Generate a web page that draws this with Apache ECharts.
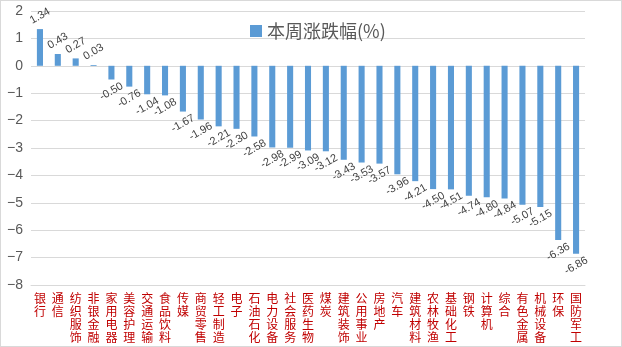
<!DOCTYPE html>
<html>
<head>
<meta charset="utf-8">
<script src="https://cdn.jsdelivr.net/npm/echarts@6/dist/echarts.min.js"></script>
<style>
html,body{margin:0;padding:0;background:#fff;}
#box{position:absolute;left:0;top:0;width:620px;height:345px;border:1px solid #d9d9d9;box-sizing:content-box;}
#chart{width:620px;height:345px;}
</style>
</head>
<body>
<div id="box"><div id="chart"></div></div>
<script>
const categories = ['银行','通信','纺织服饰','非银金融','家用电器','美容护理','交通运输','食品饮料','传媒','商贸零售','轻工制造','电子','石油石化','电力设备','社会服务','医药生物','煤炭','建筑装饰','公用事业','房地产','汽车','建筑材料','农林牧渔','基础化工','钢铁','计算机','综合','有色金属','机械设备','环保','国防军工'];
const weeklyChange = [1.34,0.43,0.27,0.03,-0.50,-0.76,-1.04,-1.08,-1.67,-1.96,-2.21,-2.30,-2.58,-2.98,-2.99,-3.09,-3.12,-3.43,-3.53,-3.57,-3.96,-4.21,-4.50,-4.51,-4.74,-4.80,-4.84,-5.07,-5.15,-6.36,-6.86];
const seriesName = '本周涨跌幅(%)';
const yMin = -8, yMax = 2, yStep = 1;

const chart = echarts.init(document.getElementById('chart'), null, {renderer:'canvas'});
const data = weeklyChange.map(v => ({
  value: v,
  label: {
    position: v >= 0 ? 'top' : 'bottom',
    distance: v >= 0 ? 13 : 12
  }
}));
chart.setOption({
  animation: false,
  backgroundColor: '#fff',
  legend: {
    data: [seriesName],
    left: 244, top: 16,
    itemWidth: 12, itemHeight: 12, itemGap: 8,
    icon: 'rect',
    textStyle: {fontSize: 18, color: '#595959', fontFamily: 'Noto Sans CJK SC'}
  },
  grid: {left: 30, right: 36, top: 10, bottom: 61, containLabel: false, outerBoundsMode: 'none'},
  xAxis: {
    type: 'category',
    data: categories,
    position: 'bottom',
    axisLine: {onZero: false, lineStyle: {color: '#d9d9d9'}},
    axisTick: {show: false},
    axisLabel: {
      interval: 0,
      margin: 7,
      color: '#c00000',
      fontSize: 12,
      lineHeight: 13,
      fontFamily: 'Noto Sans CJK SC',
      formatter: s => s.split('').join('\n')
    }
  },
  yAxis: {
    type: 'value',
    min: yMin, max: yMax, interval: yStep,
    axisLine: {show: false},
    axisTick: {show: false},
    splitLine: {lineStyle: {color: '#d9d9d9', width: 1}},
    axisLabel: {
      color: '#595959', fontSize: 14, margin: 8,
      fontFamily: 'Liberation Sans',
      formatter: v => String(v).replace('-', '\u2212')
    }
  },
  series: [{
    name: seriesName,
    type: 'bar',
    data: data,
    barWidth: '34%',
    itemStyle: {color: '#5b9bd5'},
    label: {
      show: true,
      rotate: 30,
      align: 'center',
      verticalAlign: 'middle',
      color: '#404040',
      fontSize: 11,
      fontFamily: 'Liberation Sans',
      formatter: p => p.value.toFixed(2)
    }
  }]
});
</script>
</body>
</html>
